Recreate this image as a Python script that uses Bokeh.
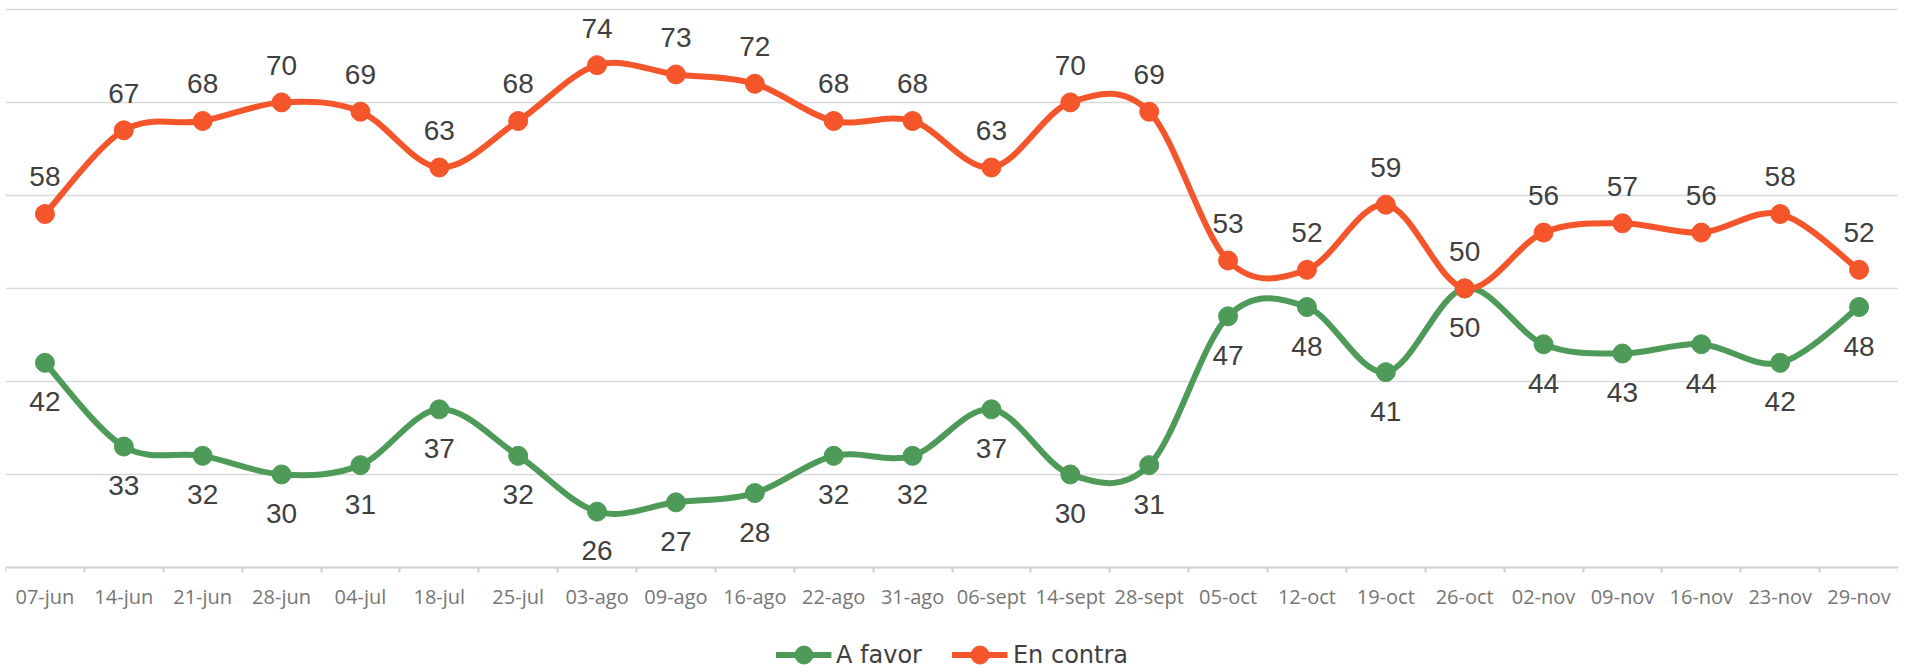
from bokeh.plotting import figure
from bokeh.models import (ColumnDataSource, Range1d, FixedTicker, Legend, LegendItem)
from bokeh.core.properties import value
from bokeh.embed import file_html
from bokeh.resources import INLINE

categories = ["07-jun", "14-jun", "21-jun", "28-jun", "04-jul", "18-jul", "25-jul", "03-ago",
              "09-ago", "16-ago", "22-ago", "31-ago", "06-sept", "14-sept", "28-sept", "05-oct",
              "12-oct", "19-oct", "26-oct", "02-nov", "09-nov", "16-nov", "23-nov", "29-nov"]
a_favor = [42, 33, 32, 30, 31, 37, 32, 26, 27, 28, 32, 32, 37, 30, 31, 47, 48, 41, 50, 44, 43, 44, 42, 48]
en_contra = [58, 67, 68, 70, 69, 63, 68, 74, 73, 72, 68, 68, 63, 70, 69, 53, 52, 59, 50, 56, 57, 56, 58, 52]
grid_values = [30, 40, 50, 60, 70, 80]
axis_base = 20

GREEN = "#4E9A58"
ORANGE = "#F4552A"

xs = list(range(len(categories)))


def smooth_source(vals):
    n = len(vals)
    d = dict(x0=[], y0=[], x1=[], y1=[], cx0=[], cy0=[], cx1=[], cy1=[])
    for i in range(n - 1):
        pm = i - 1 if i > 0 else i
        p2 = i + 2 if i + 2 < n else i + 1
        d["x0"].append(xs[i]); d["y0"].append(vals[i])
        d["x1"].append(xs[i + 1]); d["y1"].append(vals[i + 1])
        d["cx0"].append(xs[i] + (xs[i + 1] - xs[pm]) / 6)
        d["cy0"].append(vals[i] + (vals[i + 1] - vals[pm]) / 6)
        d["cx1"].append(xs[i + 1] - (xs[p2] - xs[i]) / 6)
        d["cy1"].append(vals[i + 1] - (vals[p2] - vals[i]) / 6)
    return ColumnDataSource(d)


p = figure(frame_width=1893, frame_height=670, output_backend="svg", toolbar_location=None,
           x_range=Range1d(-0.5, len(categories) - 0.5), y_range=Range1d(8.17, 80.2),
           min_border_left=5, min_border_right=0, min_border_top=7, min_border_bottom=0)
p.outline_line_color = None
p.background_fill_color = "white"
p.border_fill_color = "white"

p.yaxis.visible = False
p.xgrid.visible = False
p.ygrid.ticker = FixedTicker(ticks=grid_values)
p.ygrid.grid_line_color = "#D9D9D9"
p.ygrid.grid_line_width = 1.5

xa = p.xaxis[0]
xa.fixed_location = axis_base
xa.ticker = FixedTicker(ticks=xs, minor_ticks=[x - 0.5 for x in xs] + [xs[-1] + 0.5])
xa.major_label_overrides = {i: c for i, c in enumerate(categories)}
xa.major_tick_line_color = None
xa.major_tick_out = 0
xa.major_tick_in = 0
xa.minor_tick_line_color = "#D0D0D0"
xa.minor_tick_line_width = 2
xa.minor_tick_out = 5
xa.minor_tick_in = 0
xa.axis_line_color = "#D0D0D0"
xa.axis_line_width = 2
xa.major_label_text_font = "Open Sans"
xa.major_label_text_font_size = "20px"
xa.major_label_text_color = "#767676"
xa.major_label_standoff = 11

renderers = {}
for name, vals, color in [("A favor", a_favor, GREEN), ("En contra", en_contra, ORANGE)]:
    bsrc = smooth_source(vals)
    b = p.bezier(x0="x0", y0="y0", x1="x1", y1="y1", cx0="cx0", cy0="cy0", cx1="cx1", cy1="cy1",
                 source=bsrc, line_color=color, line_width=6)
    src = ColumnDataSource(dict(x=xs, y=vals, t=[str(v) for v in vals]))
    s = p.scatter("x", "y", source=src, size=19, fill_color=color, line_color=color)
    renderers[name] = [b, s]
    off = -37 if name == "En contra" else 39
    p.text(x="x", y="y", text="t", source=src, y_offset=off,
           text_align="center", text_baseline="middle",
           text_font=value("Liberation Sans"), text_font_size="28px", text_color="#404040")

legend = Legend(items=[LegendItem(label="A favor", renderers=renderers["A favor"]),
                       LegendItem(label="En contra", renderers=renderers["En contra"])],
                orientation="horizontal", location="bottom_center",
                border_line_color=None, background_fill_alpha=0,
                label_text_font="DejaVu Sans", label_text_font_size="24px",
                label_text_color="#404040", glyph_width=56, glyph_height=45,
                label_standoff=5, spacing=30, padding=0, margin=0)
p.add_layout(legend)

open("out.html", "w").write(file_html(p, INLINE))
